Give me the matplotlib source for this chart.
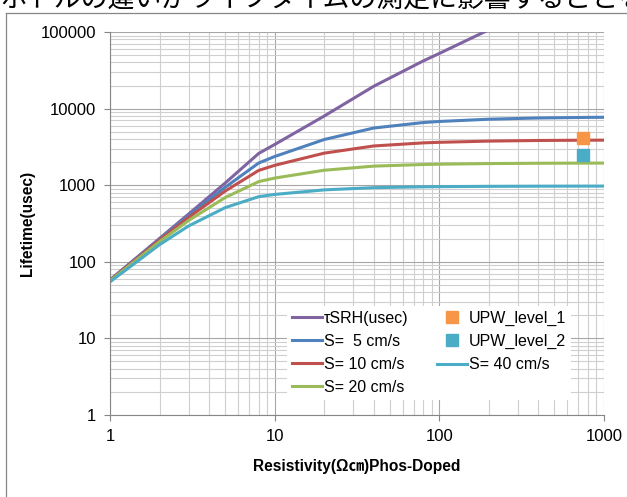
import matplotlib
matplotlib.use("Agg")
import matplotlib.pyplot as plt
from matplotlib.lines import Line2D
from matplotlib.ticker import FixedLocator, LogLocator, NullFormatter

plt.rcParams['font.family'] = ['Liberation Sans', 'Noto Sans CJK JP', 'DejaVu Sans']

# resistivity (ohm cm)
resistivity = [1, 2, 3, 5, 8, 10, 20, 40, 80, 100, 200, 400, 800, 1000]

tau_srh = [58, 202, 420, 1065, 2600, 3400, 8000, 19600, 42000, 52500, 107000, 230000, 490000, 610000]
s5 = [57.6, 196.9, 398.5, 937, 1950, 2368, 3949, 5580, 6578, 6791, 7270, 7544, 7678, 7701]
s10 = [57.1, 192.1, 379.2, 836.6, 1560, 1816, 2622, 3253, 3569, 3630, 3763, 3835, 3869, 3875]
s20 = [56.3, 183.0, 345.6, 688.8, 1114, 1239, 1568, 1774, 1863, 1880, 1915, 1934, 1942, 1944]
s40 = [54.7, 167.3, 293.5, 509.0, 709, 757.7, 869, 928.8, 952.9, 957.2, 966.2, 970.9, 973, 973.5]

upw_x = [750]
upw_level_1 = [4100]
upw_level_2 = [2450]

fig = plt.figure(figsize=(6.27, 4.97), dpi=100)

# caption line above the chart, cut off by the top edge like the source
fig.text(0.0, 1 - 6 / 497, "ボトルの違いがライフタイムの測定に影響することを確認",
         fontsize=19.4, family=['Noto Sans CJK JP'], va='baseline', ha='left', color='black')

# chart border
fig.add_artist(Line2D([5.5 / 627, 1], [1 - 12.5 / 497] * 2, transform=fig.transFigure,
                      color='#868686', lw=0.9))
fig.add_artist(Line2D([5.5 / 627] * 2, [0, 1 - 12.5 / 497], transform=fig.transFigure,
                      color='#868686', lw=0.9))

ax = fig.add_axes([110 / 627, 82 / 497, 494 / 627, 383 / 497])
ax.set_xscale('log')
ax.set_yscale('log')
ax.set_xlim(1, 1000)
ax.set_ylim(1, 100000)

lw = 2.2
ax.plot(resistivity, tau_srh, color='#8064A2', lw=lw, label='τSRH(usec)')
ax.plot(resistivity, s5, color='#4F81BD', lw=lw, label='S=  5 cm/s')
ax.plot(resistivity, s10, color='#C0504D', lw=lw, label='S= 10 cm/s')
ax.plot(resistivity, s20, color='#9BBB59', lw=lw, label='S= 20 cm/s')
ax.plot(upw_x, upw_level_1, ls='none', marker='s', ms=8, color='#F79646', label='UPW_level_1')
ax.plot(upw_x, upw_level_2, ls='none', marker='s', ms=8, color='#4BACC6', label='UPW_level_2')
ax.plot(resistivity, s40, color='#4BACC6', lw=lw, label='S= 40 cm/s')

ax.xaxis.set_major_locator(FixedLocator([1, 10, 100, 1000]))
ax.set_xticklabels(['1', '10', '100', '1000'])
ax.yaxis.set_major_locator(FixedLocator([1, 10, 100, 1000, 10000, 100000]))
ax.set_yticklabels(['1', '10', '100', '1000', '10000', '100000'])
ax.xaxis.set_minor_locator(LogLocator(base=10, subs=range(2, 10)))
ax.yaxis.set_minor_locator(LogLocator(base=10, subs=range(2, 10)))
ax.xaxis.set_minor_formatter(NullFormatter())
ax.yaxis.set_minor_formatter(NullFormatter())

ax.grid(True, which='major', color='#a6a6a6', lw=0.8)
ax.grid(True, which='minor', color='#cfcfcf', lw=0.8)
ax.set_axisbelow(True)

for side in ['top', 'right']:
    ax.spines[side].set_visible(False)
for side in ['left', 'bottom']:
    ax.spines[side].set_color('#868686')
ax.tick_params(which='major', direction='out', length=4, color='#868686',
               labelsize=12, pad=6)
ax.tick_params(which='minor', length=0)

ax.set_xlabel('Resistivity(Ω㎝)Phos-Doped', fontsize=11.2, fontweight='bold', labelpad=11)
ax.set_ylabel('Lifetime(usec)', fontsize=11.2, fontweight='bold', labelpad=4)

leg = ax.legend(loc='upper left', bbox_to_anchor=(0.342, 0.305), ncol=2, fontsize=11.5,
                frameon=True, fancybox=False, handlelength=1.9, handletextpad=0.1,
                columnspacing=1.8, labelspacing=0.5, borderpad=0.3)
leg.get_frame().set_facecolor('white')
leg.get_frame().set_edgecolor('none')
leg.get_frame().set_alpha(1)

fig.savefig('out.png', dpi=100)
